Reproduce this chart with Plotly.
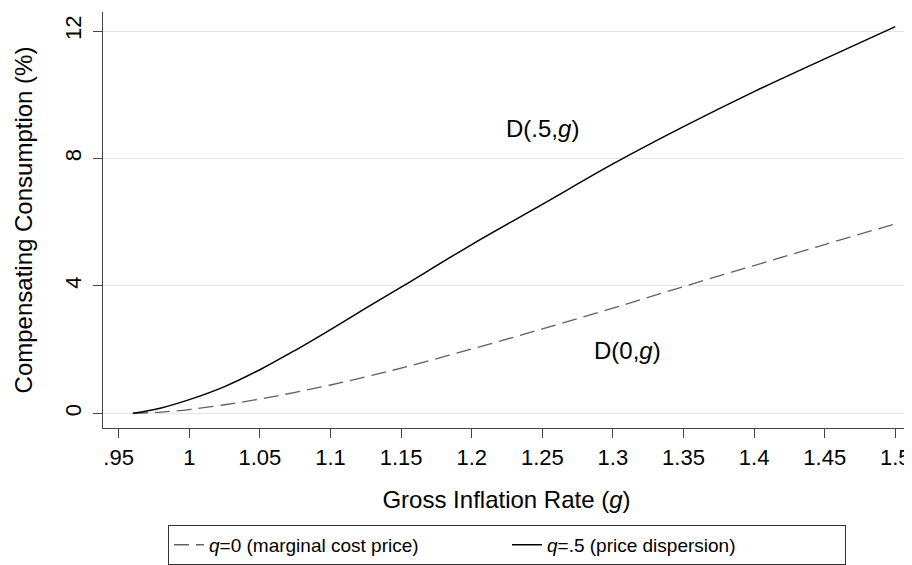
import plotly.graph_objects as go

# Data
g_vals = [0.96, 0.98, 1.0, 1.025, 1.05, 1.075, 1.1, 1.125, 1.15, 1.2, 1.25, 1.3, 1.35, 1.4, 1.45, 1.5]
d_q0 = [0.0, 0.04, 0.12, 0.27, 0.45, 0.66, 0.89, 1.15, 1.42, 2.02, 2.65, 3.3, 3.98, 4.64, 5.3, 5.95]
d_q05 = [0.0, 0.17, 0.43, 0.84, 1.37, 1.98, 2.63, 3.30, 3.96, 5.3, 6.56, 7.83, 9.0, 10.1, 11.13, 12.14]

x_tickvals = [0.95, 1.0, 1.05, 1.1, 1.15, 1.2, 1.25, 1.3, 1.35, 1.4, 1.45, 1.5]
x_ticktext = [".95", "1", "1.05", "1.1", "1.15", "1.2", "1.25", "1.3", "1.35", "1.4", "1.45", "1.5"]
y_tickvals = [0, 4, 8, 12]
y_ticktext = ["0", "4", "8", "12"]

label_points = {"D(.5,<i>g</i>)": (1.25, 8.95), "D(0,<i>g</i>)": (1.31, 1.98)}

FONT = "Liberation Sans, Arial, Helvetica, sans-serif"

fig = go.Figure()
fig.add_trace(go.Scatter(
    x=g_vals, y=d_q0, mode="lines", line_shape="spline",
    line=dict(color="#606060", width=1.3, dash="15px,7px"),
    name="<i>q</i>=0 (marginal cost price)"))
fig.add_trace(go.Scatter(
    x=g_vals, y=d_q05, mode="lines", line_shape="spline",
    line=dict(color="black", width=1.5),
    name="<i>q</i>=.5 (price dispersion)"))

for txt, (xv, yv) in label_points.items():
    fig.add_annotation(x=xv, y=yv, text=txt, showarrow=False,
                       font=dict(size=24, color="black", family=FONT))

# page body has an 8px margin, so the figure is sized to end at the window edge
fig.update_layout(
    width=904, height=557,
    margin=dict(l=95, r=2, t=4, b=137),
    paper_bgcolor="white", plot_bgcolor="white",
    font=dict(family=FONT, color="black"),
    showlegend=True,
    legend=dict(orientation="h", x=0.0805, xanchor="left",
                yref="container", y=0.072, yanchor="top",
                bordercolor="#333333", borderwidth=1, bgcolor="white",
                font=dict(size=19, family=FONT, color="black"),
                entrywidth=293, entrywidthmode="pixels", tracegroupgap=0),
)
fig.update_xaxes(
    range=[0.9389, 1.5104], tickvals=x_tickvals, ticktext=x_ticktext, automargin=False,
    showgrid=False, zeroline=False, showline=True, linecolor="#444444", linewidth=1.2,
    ticks="outside", ticklen=9, tickcolor="#444444",
    tickfont=dict(size=22, family=FONT, color="black"),
    title=dict(text="Gross Inflation Rate (<i>g</i>)", font=dict(size=24, family=FONT, color="black"), standoff=22),
)
fig.update_yaxes(
    range=[-0.46, 12.6], tickvals=y_tickvals, ticktext=y_ticktext, tickangle=-90, automargin=False,
    showgrid=True, gridcolor="#e6e6e6", gridwidth=1.2, zeroline=False,
    showline=True, linecolor="#444444", linewidth=1.2,
    ticks="outside", ticklen=9, tickcolor="#444444", ticklabelstandoff=3,
    tickfont=dict(size=22, family=FONT, color="black"),
    title=dict(text="Compensating Consumption (%)", font=dict(size=24, family=FONT, color="black"), standoff=21),
)

fig.write_html("out.html")
